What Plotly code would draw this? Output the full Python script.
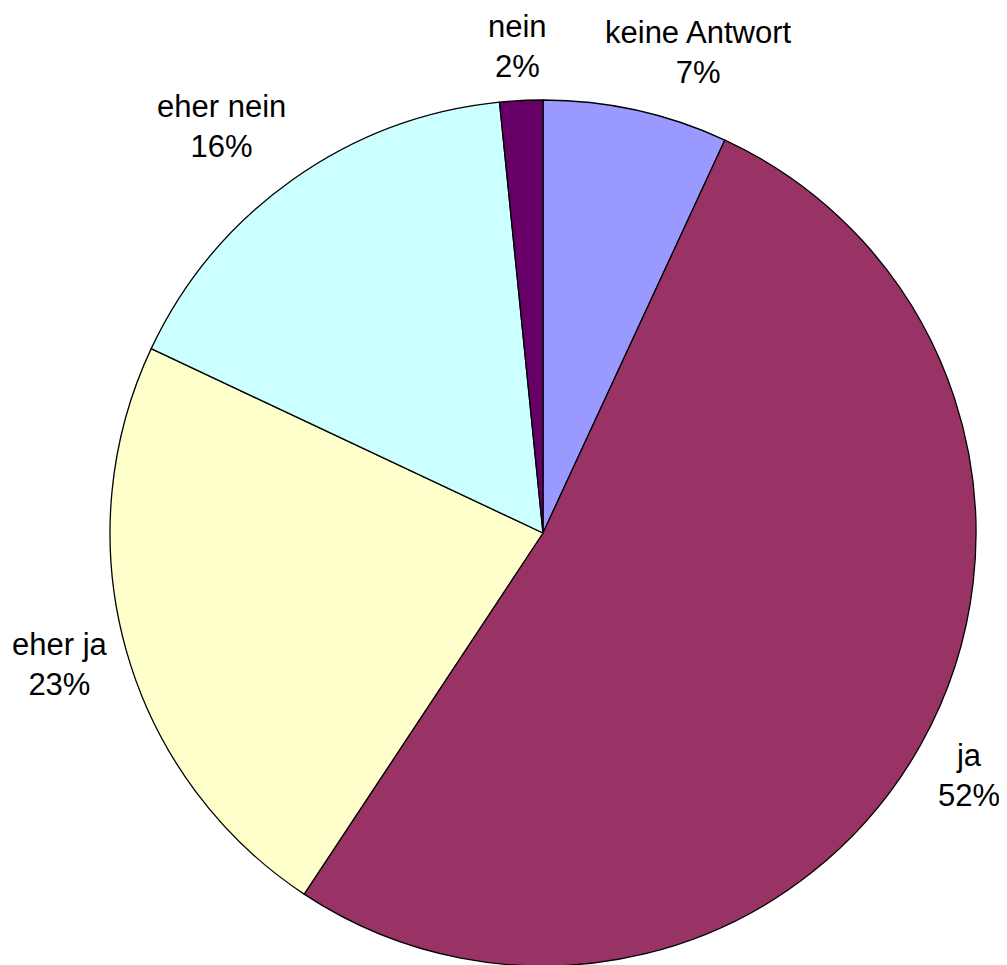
import plotly.graph_objects as go

labels = ["keine Antwort", "ja", "eher ja", "eher nein", "nein"]
values = [6.9, 52.4, 22.7, 16.4, 1.6]
colors = ["#9999FF", "#993366", "#FFFFCC", "#CCFFFF", "#660066"]

# label text block centers (page pixels, from top-left)
label_pos = [(698, 53), (969, 775), (60, 664), (221, 126), (518, 46)]

W, H = 1007, 965
OFF = 8  # default body margin of the page
cx, cy, r = 543 - OFF, 533 - OFF, 433

fig = go.Figure(go.Pie(
    labels=labels, values=values, sort=False, direction="clockwise", rotation=0,
    marker=dict(colors=colors, line=dict(color="black", width=1.3)),
    textinfo="none", hoverinfo="label+percent", showlegend=False,
    domain=dict(x=[(cx - r) / W, (cx + r) / W],
                y=[(H - cy - r) / H, (H - cy + r) / H]),
))

total = sum(values)
for lab, v, (px, py) in zip(labels, values, label_pos):
    fig.add_annotation(
        x=(px - OFF) / W, y=1 - (py - OFF) / H, xref="paper", yref="paper",
        text=f"{lab}<br>{round(100 * v / total)}%", showarrow=False,
        font=dict(family="Liberation Sans, Arial", size=31, color="black"),
        align="center", xanchor="center", yanchor="middle",
        borderpad=0,
    )

fig.update_layout(width=W, height=H, margin=dict(l=0, r=0, t=0, b=0),
                  paper_bgcolor="white", plot_bgcolor="white")
fig.write_html("out.html")
